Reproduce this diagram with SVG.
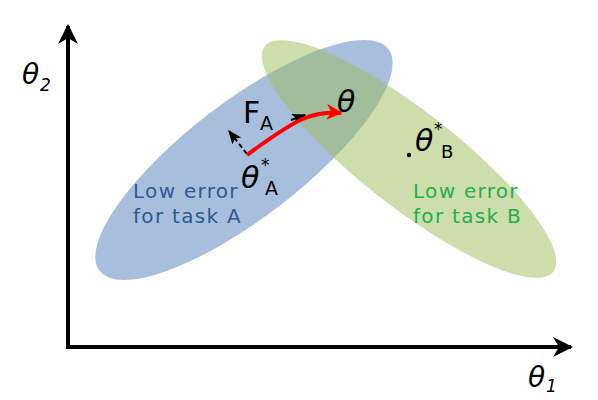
<svg xmlns="http://www.w3.org/2000/svg" width="598" height="400" viewBox="0 0 598 400">
<defs>
<style>
.t{font-family:"DejaVu Sans","Noto Sans",sans-serif;}
.sym{font-family:"DejaVu Sans","Noto Sans",sans-serif;font-style:italic;fill:#000;}
.lbl{font-family:"DejaVu Sans","Noto Sans",sans-serif;font-size:20px;letter-spacing:1.3px;}
</style>
<marker id="ah" viewBox="0 0 10 10" refX="9" refY="5" markerWidth="5" markerHeight="5" orient="auto" markerUnits="strokeWidth"><path d="M0,0 L10,5 L0,10 L3,5 z" fill="#000"/></marker>
<marker id="ahs" viewBox="0 0 10 10" refX="9" refY="5" markerWidth="7" markerHeight="7" orient="auto" markerUnits="strokeWidth"><path d="M0,1 L10,5 L0,9 L2,5 z" fill="#000"/></marker>
<marker id="ahr" viewBox="0 0 10 10" refX="9" refY="5" markerWidth="4" markerHeight="4" orient="auto" markerUnits="strokeWidth"><path d="M0,0 L10,5 L0,10 L3,5 z" fill="#f00"/></marker>
</defs>
<rect width="598" height="400" fill="#fff"/>
<g id="regionA"><ellipse cx="244" cy="160" rx="182" ry="58" transform="rotate(-37.5 244 160)" fill="#a7bfdd"/></g>
<g id="regionB"><ellipse cx="409" cy="159" rx="183" ry="48" transform="rotate(38 409 159)" fill="#9bbb59" fill-opacity="0.5"/></g>
<g id="connectors">
<path d="M68,347 L68,26" stroke="#000" stroke-width="4" fill="none" marker-end="url(#ah)"/>
<path d="M66,347 L571,347" stroke="#000" stroke-width="4" fill="none" marker-end="url(#ah)"/>
<path d="M247,154 L229,131" stroke="#000" stroke-width="2" stroke-dasharray="5,3" fill="none" marker-end="url(#ahs)"/>
<path d="M291,120 L305,115" stroke="#000" stroke-width="2" fill="none" marker-end="url(#ahs)"/>
<path d="M247,155 C270,138 290,124 305,118 C318,113 328,112 341,113" stroke="#f00" stroke-width="4" fill="none" marker-end="url(#ahr)"/>
</g>
<g id="dotB"><circle cx="409" cy="155" r="2.2" fill="#000"/></g>
<g id="labels">
<text class="sym" x="22" y="84" font-size="28">θ</text><text class="sym" x="40" y="91" font-size="17">2</text>
<text class="sym" x="528" y="387" font-size="28">θ</text><text class="sym" x="546" y="392" font-size="17">1</text>
<text class="t" x="243" y="123" font-size="30">F</text><text class="t" x="260" y="130" font-size="19">A</text>
<text class="sym" x="337" y="112" font-size="30">θ</text>
<text class="sym" x="241" y="188" font-size="30">θ</text><text class="t" x="261" y="171" font-size="17">*</text><text class="t" x="265" y="195" font-size="19">A</text>
<text class="sym" x="415" y="151" font-size="30">θ</text><text class="t" x="434" y="135" font-size="17">*</text><text class="t" x="441" y="158" font-size="18">B</text>
<text class="lbl" x="133" y="198" fill="#2f5a8f">Low error</text>
<text class="lbl" x="133" y="223" fill="#2f5a8f">for task A</text>
<text class="lbl" x="413" y="198" fill="#22b04a">Low error</text>
<text class="lbl" x="413" y="223" fill="#22b04a">for task B</text>
</g>
</svg>
